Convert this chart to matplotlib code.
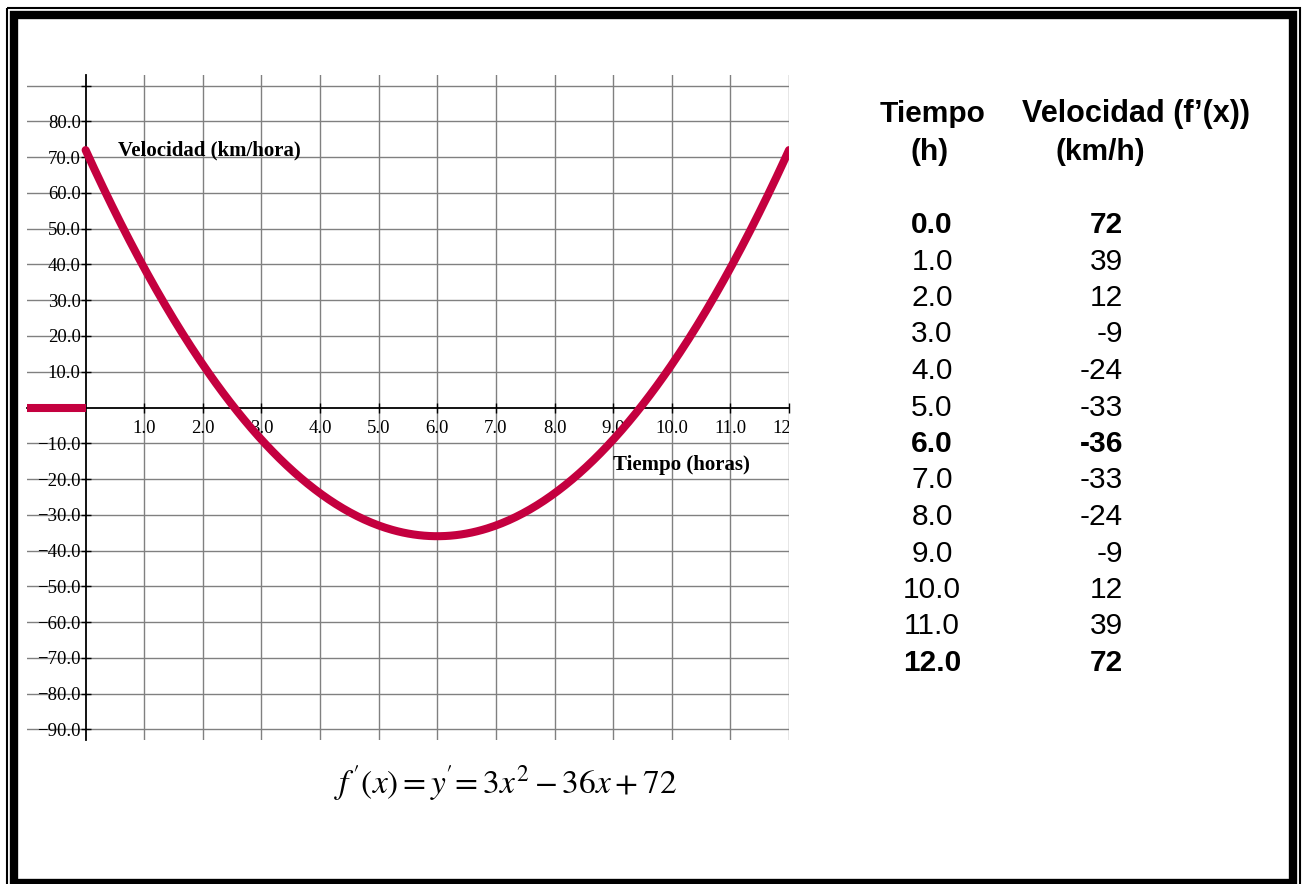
import numpy as np
import matplotlib.pyplot as plt
from matplotlib.patches import Rectangle

# velocidad: f'(x) = 3x^2 - 36x + 72
coef = [3, -36, 72]

# tabla de valores
tiempo = [0.0, 1.0, 2.0, 3.0, 4.0, 5.0, 6.0, 7.0, 8.0, 9.0, 10.0, 11.0, 12.0]
velocidad = [72, 39, 12, -9, -24, -33, -36, -33, -24, -9, 12, 39, 72]
filas_negrita = [0, 6, 12]

# tramo plano antes de t = 0
pre_x = [-1, 0]
pre_y = [0, 0]

y_ticks = [-90, -80, -70, -60, -50, -40, -30, -20, -10, 10, 20, 30, 40, 50, 60, 70, 80, 90]
x_ticks = [1, 2, 3, 4, 5, 6, 7, 8, 9, 10, 11, 12]

W, H = 1305, 884
RED = '#C4003F'
SERIF = 'Liberation Serif'
SANS = 'Liberation Sans'

plt.rcParams['mathtext.fontset'] = 'stix'

fig = plt.figure(figsize=(W / 100, H / 100), dpi=100)

# plot area in pixel terms
left, right, top, bottom = 27, 789, 75, 740
ax = fig.add_axes([left / W, 1 - bottom / H, (right - left) / W, (bottom - top) / H])
ax.set_xlim(-1, 12)
ax.set_ylim(-93, 93)

# grid
for yv in y_ticks:
    ax.axhline(yv, color='#808080', lw=1.0, zorder=1)
for xv in x_ticks:
    ax.axvline(xv, color='#808080', lw=1.0, zorder=1)

ax.spines['left'].set_position(('data', 0))
ax.spines['bottom'].set_position(('data', 0))
ax.spines['top'].set_visible(False)
ax.spines['right'].set_visible(False)
for s in ['left', 'bottom']:
    ax.spines[s].set_linewidth(1.3)
    ax.spines[s].set_zorder(2)

ax.set_yticks(y_ticks)
ax.set_yticklabels(['' if v == 90 else f'{v:.1f}'.replace('-', '\u2212') for v in y_ticks],
                   fontfamily=SERIF, fontsize=13.5)
ax.set_xticks(x_ticks)
ax.set_xticklabels([])
ax.tick_params(axis='both', direction='inout', length=7, width=1.0)
ax.tick_params(axis='y', pad=0)

for xv in x_ticks:
    ax.text(xv, -5.9, f'{xv:.1f}', ha='center', va='center', fontfamily=SERIF,
            fontsize=13.5, clip_on=True)

# curve
xs = np.linspace(tiempo[0], tiempo[-1], 400)
ax.plot(xs, np.polyval(coef, xs), color=RED, lw=5.8, solid_capstyle='round', zorder=3)
ax.plot(pre_x, pre_y, color=RED, lw=5.8, solid_capstyle='butt', zorder=3)

ax.text(0.55, 72, 'Velocidad (km/hora)', ha='left', va='center', fontfamily=SERIF,
        fontweight='bold', fontsize=15)
ax.text(9.0, -16.2, 'Tiempo (horas)', ha='left', va='center', fontfamily=SERIF,
        fontweight='bold', fontsize=15)

# overlay in pixel coordinates for frame, formula and table
ov = fig.add_axes([0, 0, 1, 1], facecolor='none')
ov.set_xlim(0, W)
ov.set_ylim(H, 0)
ov.axis('off')

ov.add_patch(Rectangle((7, 8), 1293, 900, fill=False, ec='black', lw=1.5))
ov.add_patch(Rectangle((13.5, 15), 1279, 868, fill=False, ec='black', lw=6, joinstyle='miter'))

ov.text(506, 783, r"$f\,\mathrm{'}(x) = y\mathrm{'}\!= 3x^2 - 36x + 72$", ha='center', va='center',
        fontsize=24)

ov.text(933, 114, 'Tiempo', ha='center', va='center', fontfamily=SANS, fontweight='bold', fontsize=21.5)
ov.text(930, 152, '(h)', ha='center', va='center', fontfamily=SANS, fontweight='bold', fontsize=21.5)
ov.text(1136, 114, 'Velocidad (f\u2019(x))', ha='center', va='center', fontfamily=SANS,
        fontweight='bold', fontsize=22)
ov.text(1100, 152, '(km/h)', ha='center', va='center', fontfamily=SANS, fontweight='bold', fontsize=21.5)

row0, step = 225, 36.5
for i, (t, v) in enumerate(zip(tiempo, velocidad)):
    w = 'bold' if i in filas_negrita else 'normal'
    yy = row0 + i * step
    ov.text(932, yy, f'{t:.1f}', ha='center', va='center', fontfamily=SANS, fontweight=w, fontsize=21.5)
    ov.text(1123, yy, f'{v}', ha='right', va='center', fontfamily=SANS, fontweight=w, fontsize=21.5)

fig.savefig('out.png', dpi=100)
